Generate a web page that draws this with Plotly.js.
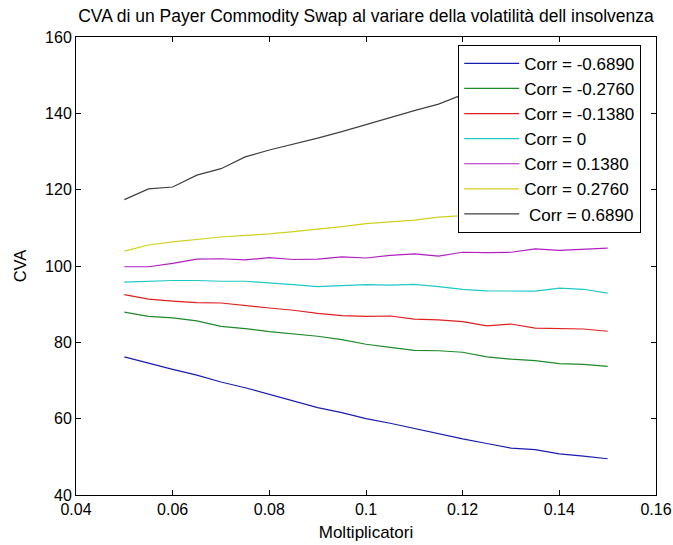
<!DOCTYPE html>
<html>
<head>
<meta charset="utf-8">
<script src="https://cdn.plot.ly/plotly-3.0.1.min.js"></script>
<style>html,body{margin:0;padding:0;background:#fff;}#chart{width:673px;height:545px;}</style>
</head>
<body>
<div id="chart"></div>
<script>
const moltiplicatori = [0.05,0.055,0.06,0.065,0.07,0.075,0.08,0.085,0.09,0.095,0.1,0.105,0.11,0.115,0.12,0.125,0.13,0.135,0.14,0.145,0.15];
const seriesNames = ["Corr = -0.6890","Corr = -0.2760","Corr = -0.1380","Corr = 0","Corr = 0.1380","Corr = 0.2760"," Corr = 0.6890"];
const corrM0689 = [76.2,74.5,72.9,71.4,69.6,68.1,66.4,64.5,62.9,61.6,60.0,58.8,57.4,56.2,54.7,53.5,52.3,51.9,50.8,50.2,49.5];
const corrM0276 = [87.9,86.8,86.4,85.6,84.2,83.6,82.8,82.2,81.6,80.7,79.5,78.7,77.9,77.8,77.4,76.2,75.6,75.2,74.4,74.2,73.7];
const corrM0138 = [92.5,91.3,90.8,90.4,90.3,89.6,89.0,88.4,87.6,87.0,86.8,86.9,86.1,85.9,85.4,84.3,84.8,83.7,83.6,83.5,82.9];
const corr0 = [95.8,96.1,96.2,96.2,96.0,96.0,95.6,95.1,94.6,94.9,95.1,95.0,95.2,94.6,93.9,93.5,93.4,93.4,94.2,93.9,92.9];
const corrP0138 = [99.8,99.8,100.7,101.8,101.9,101.6,102.2,101.7,101.8,102.4,102.1,102.8,103.2,102.6,103.6,103.5,103.6,104.5,104.1,104.4,104.7];
const corrP0276 = [103.9,105.5,106.3,107.0,107.6,108.0,108.4,109.0,109.6,110.3,111.1,111.6,112.0,112.8,113.2,113.5,113.9,114.3,114.7,115.2,115.6];
const corrP0689 = [117.4,120.2,120.7,123.8,125.5,128.6,130.4,131.9,133.5,135.2,137.1,138.8,140.7,142.4,144.9,146.6,148.3,150.0,151.7,153.4,155.0];
const seriesValues = [corrM0689,corrM0276,corrM0138,corr0,corrP0138,corrP0276,corrP0689];
const seriesColors = ["#1c1cb0","#1f8a2a","#e02020","#20c8c8","#b020c0","#d0d020","#404040"];
const xTicks = [0.04,0.06,0.08,0.1,0.12,0.14,0.16];
const xTickText = ["0.04","0.06","0.08","0.1","0.12","0.14","0.16"];
const yTicks = [40,60,80,100,120,140,160];

const FONT = '"Liberation Sans Narrow", "Liberation Sans", Arial, sans-serif';
const traces = seriesValues.map((v,i)=>({
  x: moltiplicatori, y: v, type:'scatter', mode:'lines', name: seriesNames[i],
  line:{color: seriesColors[i], width:1.2}
}));
const layout = {
  width:673, height:545,
  margin:{l:76, r:17, t:37, b:50},
  paper_bgcolor:'#fff', plot_bgcolor:'#fff',
  font:{family:FONT, size:14, color:'#000'},
  title:{text:'CVA di un Payer Commodity Swap al variare della volatilità dell insolvenza', xref:'paper', x:0.5, xanchor:'center', yref:'container', y:0.97, yanchor:'middle', font:{family:FONT, size:17.5, color:'#000'}},
  xaxis:{range:[0.04,0.16], tickvals:xTicks, ticktext:xTickText, ticks:'inside', ticklen:5, tickcolor:'#000', showline:true, linecolor:'#000', linewidth:1, mirror:'ticks', showgrid:false, zeroline:false, tickfont:{size:16}, title:{text:'Moltiplicatori', font:{size:17}, standoff:8}},
  yaxis:{range:[40,160], tickvals:yTicks, ticks:'inside', ticklen:5, tickcolor:'#000', showline:true, linecolor:'#000', linewidth:1, mirror:'ticks', showgrid:false, zeroline:false, tickfont:{size:16}, title:{text:'CVA', font:{size:16.5}, standoff:14}},
  showlegend:true,
  legend:{x:0.659, y:0.983, xanchor:'left', yanchor:'top', bgcolor:'#fff', bordercolor:'#000', borderwidth:1, font:{size:17}, tracegroupgap:0, itemwidth:55}
};
Plotly.newPlot('chart', traces, layout, {displayModeBar:false, staticPlot:true});
</script>
</body>
</html>
